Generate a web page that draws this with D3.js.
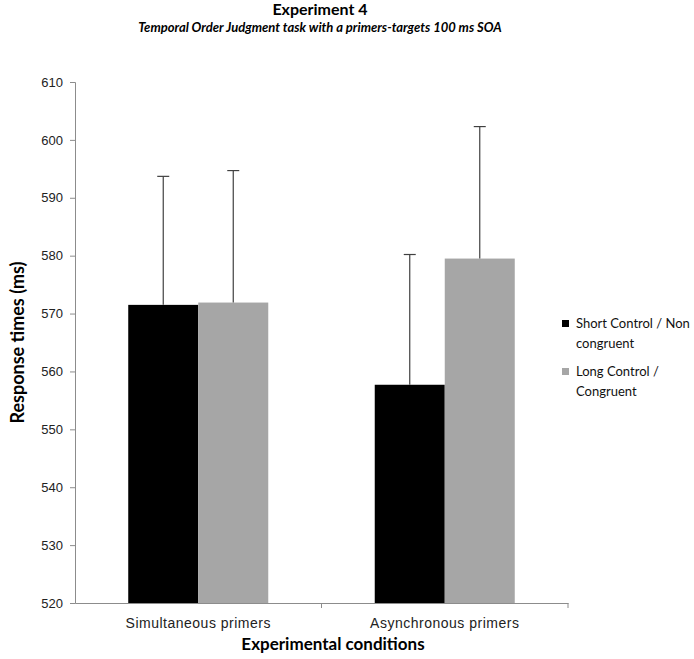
<!DOCTYPE html>
<html>
<head>
<meta charset="utf-8">
<script src="https://cdnjs.cloudflare.com/ajax/libs/d3/7.8.5/d3.min.js"></script>
<style>
  body { margin: 0; background: #fff; }
  svg { font-family: Lato, "Open Sans", sans-serif; }
</style>
</head>
<body>
<div id="chart"></div>
<script>
// data
const conditions = ["Simultaneous primers", "Asynchronous primers"];
const seriesNames = ["Short Control / Non congruent", "Long Control / Congruent"];
const shortValues = [571.5, 557.7];
const longValues = [571.9, 579.5];
const shortErrors = [22.2, 22.5];
const longErrors = [22.8, 22.8];
const yTicks = [520, 530, 540, 550, 560, 570, 580, 590, 600, 610];
const colors = ["#000000", "#a6a6a6"];

const W = 694, H = 659;
const margin = {top: 82, right: 126, bottom: 56, left: 75};
const width = W - margin.left - margin.right;
const height = H - margin.top - margin.bottom;

const svg = d3.select("#chart").append("svg")
    .attr("width", W)
    .attr("height", H);

const g = svg.append("g")
    .attr("transform", `translate(${margin.left},${margin.top})`);

const x0 = d3.scaleBand()
    .domain(conditions)
    .range([0, width])
    .paddingInner(0.432)
    .paddingOuter(0.216);

const x1 = d3.scaleBand()
    .domain([0, 1])
    .range([0, x0.bandwidth()]);

const y = d3.scaleLinear()
    .domain([520, 610])
    .range([height, 0]);

// build rows
const rows = [];
conditions.forEach((c, i) => {
    rows.push({cond: c, s: 0, v: shortValues[i], e: shortErrors[i]});
    rows.push({cond: c, s: 1, v: longValues[i], e: longErrors[i]});
});

// y axis
const yAxis = g.append("g")
    .call(d3.axisLeft(y).tickValues(yTicks).tickSize(5).tickPadding(7));
yAxis.select(".domain").attr("stroke", "#8c8c8c");
yAxis.selectAll(".tick line").attr("stroke", "#8c8c8c");
yAxis.selectAll(".tick text").attr("font-size", 13).attr("fill", "#222");

// bars
g.selectAll(".bar")
    .data(rows)
    .enter().append("rect")
    .attr("class", "bar")
    .attr("x", d => x0(d.cond) + x1(d.s))
    .attr("y", d => y(d.v))
    .attr("width", x1.bandwidth())
    .attr("height", d => height - y(d.v))
    .attr("fill", d => colors[d.s]);

// error bars (upper only)
const eb = g.selectAll(".err")
    .data(rows)
    .enter().append("g")
    .attr("class", "err")
    .attr("stroke", "#404040")
    .attr("stroke-width", 1.2);
eb.append("line")
    .attr("x1", d => x0(d.cond) + x1(d.s) + x1.bandwidth() / 2)
    .attr("x2", d => x0(d.cond) + x1(d.s) + x1.bandwidth() / 2)
    .attr("y1", d => y(d.v))
    .attr("y2", d => y(d.v + d.e));
eb.append("line")
    .attr("x1", d => x0(d.cond) + x1(d.s) + x1.bandwidth() / 2 - 6)
    .attr("x2", d => x0(d.cond) + x1(d.s) + x1.bandwidth() / 2 + 6)
    .attr("y1", d => y(d.v + d.e))
    .attr("y2", d => y(d.v + d.e));

// x axis
const xAxis = g.append("g")
    .attr("transform", `translate(0,${height})`)
    .call(d3.axisBottom(x0).tickSize(0).tickPadding(15));
xAxis.select(".domain").attr("stroke", "#8c8c8c");
xAxis.selectAll(".tick text")
    .attr("font-size", 14)
    .attr("letter-spacing", 0.5)
    .attr("fill", "#222");
// divider ticks between categories
xAxis.append("line")
    .attr("x1", width / 2).attr("x2", width / 2)
    .attr("y1", 0).attr("y2", 5)
    .attr("stroke", "#8c8c8c");
xAxis.append("line")
    .attr("x1", width).attr("x2", width)
    .attr("y1", 0).attr("y2", 5)
    .attr("stroke", "#8c8c8c");

// titles
svg.append("text")
    .attr("x", 320).attr("y", 15)
    .attr("text-anchor", "middle")
    .attr("font-size", 16).attr("font-weight", "bold")
    .text("Experiment 4");
svg.append("text")
    .attr("x", 320).attr("y", 32)
    .attr("text-anchor", "middle")
    .attr("font-size", 13).attr("font-style", "italic").attr("font-weight", "bold")
    .text("Temporal Order Judgment task with a primers-targets 100 ms SOA");

svg.append("text")
    .attr("x", 333).attr("y", 650)
    .attr("text-anchor", "middle")
    .attr("font-size", 17).attr("font-weight", "bold")
    .text("Experimental conditions");

svg.append("text")
    .attr("transform", `translate(24,${margin.top + height / 2}) rotate(-90)`)
    .attr("text-anchor", "middle")
    .attr("font-size", 18).attr("font-weight", "bold")
    .text("Response times (ms)");

// legend
const legendLines = [["Short Control / Non", "congruent"], ["Long Control /", "Congruent"]];
const legend = svg.append("g").attr("transform", "translate(562,320)");
legendLines.forEach((lines, i) => {
    const lg = legend.append("g").attr("transform", `translate(0,${i * 48})`);
    lg.append("rect")
        .attr("x", 0).attr("y", 0)
        .attr("width", 7).attr("height", 7)
        .attr("fill", colors[i]);
    lines.forEach((t, j) => {
        lg.append("text")
            .attr("x", 14).attr("y", 8 + j * 20)
            .attr("font-size", 13).attr("fill", "#111")
            .text(t);
    });
});
</script>
</body>
</html>
